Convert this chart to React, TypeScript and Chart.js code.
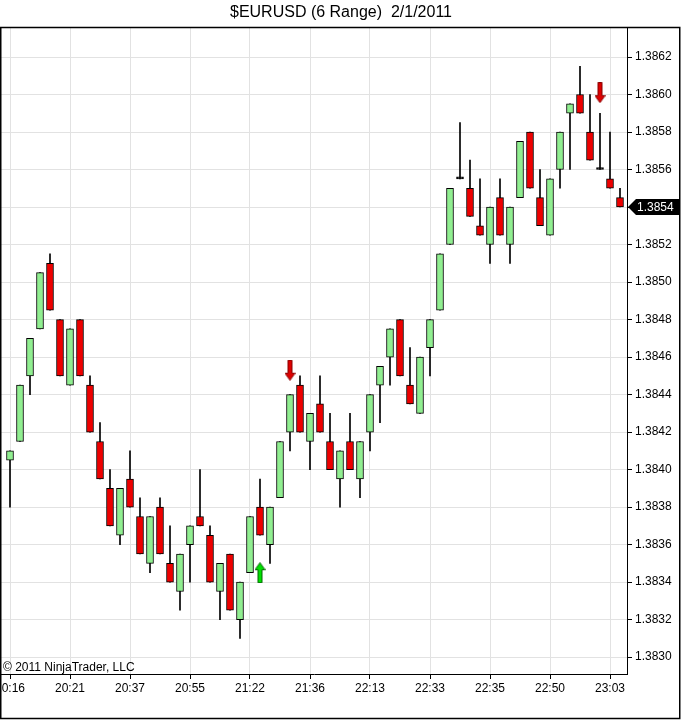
import { useEffect, useRef } from "react";
import { Chart, registerables } from "chart.js";

Chart.register(...registerables);

// $EURUSD 6 range bars, 2/1/2011
const opens = [
  1.38405, 1.38415, 1.3845, 1.38475, 1.3851, 1.3848, 1.38445, 1.3848, 1.38445, 1.38415,
  1.3839, 1.38365, 1.38395, 1.38375, 1.3835, 1.3838, 1.3835, 1.38335, 1.3836, 1.38375,
  1.38365, 1.38335, 1.38355, 1.3832, 1.38345, 1.3838, 1.3836, 1.38385, 1.3842, 1.38445,
  1.38415, 1.38435, 1.38415, 1.38395, 1.38415, 1.38395, 1.3842, 1.38445, 1.3846, 1.3848,
  1.38445, 1.3843, 1.38465, 1.38485, 1.3852, 1.38555, 1.3855, 1.3853, 1.3852, 1.38545,
  1.3852, 1.38545, 1.3858, 1.38545, 1.38525, 1.3856, 1.3859, 1.386, 1.3858, 1.3856,
  1.38555, 1.38545,
];
const highs = [
  1.3841, 1.38445, 1.3847, 1.38505, 1.38515, 1.3848, 1.38475, 1.3848, 1.3845, 1.38425,
  1.384, 1.3839, 1.3841, 1.38385, 1.38375, 1.38385, 1.3837, 1.38355, 1.3837, 1.384,
  1.3837, 1.3835, 1.38355, 1.3834, 1.38375, 1.38395, 1.3838, 1.38415, 1.3844, 1.3845,
  1.3843, 1.3845, 1.3843, 1.3841, 1.3843, 1.38415, 1.3844, 1.38455, 1.38475, 1.3848,
  1.38465, 1.3846, 1.3848, 1.38515, 1.3855, 1.38585, 1.38565, 1.38555, 1.3854, 1.38555,
  1.3854, 1.38575, 1.3858, 1.3856, 1.38555, 1.3858, 1.38595, 1.38615, 1.386, 1.3859,
  1.3858, 1.3855,
];
const lows = [
  1.3838, 1.38415, 1.3844, 1.38475, 1.38485, 1.3845, 1.38445, 1.3845, 1.3842, 1.38395,
  1.3837, 1.3836, 1.3838, 1.38355, 1.38345, 1.38355, 1.3834, 1.38325, 1.3834, 1.3837,
  1.3834, 1.3832, 1.38325, 1.3831, 1.38345, 1.38365, 1.3835, 1.38385, 1.3841, 1.3842,
  1.384, 1.3842, 1.384, 1.3838, 1.384, 1.38385, 1.3841, 1.38425, 1.38445, 1.3845,
  1.38435, 1.3843, 1.3845, 1.38485, 1.3852, 1.38555, 1.38535, 1.38525, 1.3851, 1.38525,
  1.3851, 1.38545, 1.3855, 1.3853, 1.38525, 1.3855, 1.3856, 1.3859, 1.38565, 1.3856,
  1.3855, 1.3854,
];
const closes = [
  1.3841, 1.38445, 1.3847, 1.38505, 1.38485, 1.3845, 1.38475, 1.3845, 1.3842, 1.38395,
  1.3837, 1.3839, 1.3838, 1.38355, 1.38375, 1.38355, 1.3834, 1.38355, 1.3837, 1.3837,
  1.3834, 1.3835, 1.38325, 1.3834, 1.38375, 1.38365, 1.3838, 1.38415, 1.3844, 1.3842,
  1.3843, 1.3842, 1.384, 1.3841, 1.384, 1.38415, 1.3844, 1.38455, 1.38475, 1.3845,
  1.38435, 1.3846, 1.3848, 1.38515, 1.3855, 1.38555, 1.38535, 1.38525, 1.3854, 1.38525,
  1.3854, 1.38575, 1.3855, 1.3853, 1.38555, 1.3858, 1.38595, 1.3859, 1.38565, 1.3856,
  1.3855, 1.3854,
];

// x labels, one every 6 bars
const timeLabels = ["20:16", "20:21", "20:37", "20:55", "21:22", "21:36", "22:13", "22:33", "22:35", "22:50", "23:03"];
const yTickLabels = [
  "1.3830", "1.3832", "1.3834", "1.3836", "1.3838", "1.3840", "1.3842", "1.3844", "1.3846",
  "1.3848", "1.3850", "1.3852", "1.3854", "1.3856", "1.3858", "1.3860", "1.3862",
];

// strategy signal arrows
const signalBars = [25, 28, 59];
const signalPrices = [1.38345, 1.38453, 1.38601];
const signalDirs = ["up", "down", "down"];

const FONT = 'Arial, "Liberation Sans", sans-serif';

function makeArrow(dir: string, fill: string, stroke: string) {
  const c = document.createElement("canvas");
  c.width = 11;
  c.height = 21;
  const ctx = c.getContext("2d")!;
  ctx.beginPath();
  if (dir === "down") {
    ctx.moveTo(3.5, 0.5);
    ctx.lineTo(7.5, 0.5);
    ctx.lineTo(7.5, 13.5);
    ctx.lineTo(10.5, 13.5);
    ctx.lineTo(5.5, 20.5);
    ctx.lineTo(0.5, 13.5);
    ctx.lineTo(3.5, 13.5);
  } else {
    ctx.moveTo(3.5, 20.5);
    ctx.lineTo(7.5, 20.5);
    ctx.lineTo(7.5, 7.5);
    ctx.lineTo(10.5, 7.5);
    ctx.lineTo(5.5, 0.5);
    ctx.lineTo(0.5, 7.5);
    ctx.lineTo(3.5, 7.5);
  }
  ctx.closePath();
  ctx.fillStyle = fill;
  ctx.fill();
  ctx.strokeStyle = stroke;
  ctx.lineWidth = 1;
  ctx.stroke();
  return c;
}

export default function App() {
  const canvasRef = useRef<HTMLCanvasElement>(null);
  const chartRef = useRef<Chart | null>(null);

  useEffect(() => {
    document.body.style.margin = "0";
    if (!canvasRef.current) return;
    chartRef.current?.destroy();

    const idx = opens.map((_, i) => i);
    const bodyColor = idx.map((i) =>
      closes[i] > opens[i] ? "#90EE90" : closes[i] < opens[i] ? "#EE0000" : "#000000"
    );
    const arrows = signalDirs.map((d) =>
      d === "up" ? makeArrow("up", "#00E000", "#006600") : makeArrow("down", "#DD0000", "#880000")
    );

    const frame = {
      id: "frame",
      afterDraw(chart: Chart) {
        const ctx = chart.ctx;
        const ys = chart.scales.y;
        ctx.save();
        // title
        ctx.fillStyle = "#000";
        ctx.font = `16px ${FONT}`;
        ctx.textAlign = "center";
        ctx.textBaseline = "middle";
        ctx.fillText("$EURUSD (6 Range)  2/1/2011", 341, 13);
        // copyright
        ctx.font = `12px ${FONT}`;
        ctx.textAlign = "left";
        ctx.textBaseline = "alphabetic";
        ctx.fillText("\u00A9 2011 NinjaTrader, LLC", 3, 671);
        // last price box
        const last = closes[closes.length - 1];
        const y = Math.round(ys.getPixelForValue(last));
        const x0 = chart.chartArea.right;
        ctx.beginPath();
        ctx.moveTo(x0 + 1, y);
        ctx.lineTo(x0 + 9, y - 8);
        ctx.lineTo(679, y - 8);
        ctx.lineTo(679, y + 8);
        ctx.lineTo(x0 + 9, y + 8);
        ctx.closePath();
        ctx.fillStyle = "#000";
        ctx.fill();
        ctx.fillStyle = "#fff";
        ctx.textBaseline = "middle";
        ctx.fillText(last.toFixed(4), x0 + 10, y + 1);
        // outer frame
        ctx.strokeStyle = "#000";
        ctx.lineWidth = 1.5;
        ctx.strokeRect(0.75, 27.5, 679, 691);
        ctx.restore();
      },
    };

    chartRef.current = new Chart(canvasRef.current, {
      type: "bar",
      data: {
        datasets: [
          {
            type: "bar",
            label: "wick",
            data: idx.map((i) => ({ x: i, y: [lows[i], highs[i]] })) as any,
            backgroundColor: "#000",
            barThickness: 1,
            grouped: false,
            order: 3,
          },
          {
            type: "bar",
            label: "body",
            data: idx.map((i) => ({ x: i, y: [opens[i], closes[i]] })) as any,
            backgroundColor: bodyColor,
            borderColor: "#000",
            borderWidth: 1,
            borderSkipped: false,
            barThickness: 7,
            minBarLength: 2,
            grouped: false,
            order: 2,
          },
          {
            type: "scatter",
            label: "signals",
            data: signalBars.map((b, k) => ({ x: b, y: signalPrices[k] })),
            pointStyle: arrows as any,
            pointRadius: 10,
            order: 1,
          } as any,
        ],
      },
      options: {
        responsive: false,
        animation: false,
        layout: { autoPadding: false, padding: { top: 27, left: 1, right: 2, bottom: 1 } },
        plugins: {
          legend: { display: false },
          tooltip: { enabled: false },
          title: { display: false },
        },
        scales: {
          x: {
            type: "linear",
            min: -0.9,
            max: 61.7,
            offset: false,
            afterBuildTicks: (scale: any) => {
              scale.ticks = timeLabels.map((_, k) => ({ value: k * 6 }));
            },
            afterFit: (scale: any) => {
              scale.height = 45;
              scale.paddingLeft = 0;
              scale.paddingRight = 0;
            },
            ticks: {
              autoSkip: false,
              maxRotation: 0,
              padding: 2,
              color: "#000",
              font: { family: FONT, size: 12 },
              callback: (v: any) => timeLabels[Math.round(Number(v) / 6)] ?? "",
            },
            grid: { color: "#e2e2e2", offset: false, tickLength: 5, tickColor: "#000" },
            border: { color: "#000", width: 1 },
          },
          y: {
            type: "linear",
            position: "right",
            min: 1.38291,
            max: 1.38636,
            afterBuildTicks: (scale: any) => {
              scale.ticks = yTickLabels.map((t) => ({ value: Number(t) }));
            },
            afterFit: (scale: any) => {
              scale.width = 52;
              scale.paddingTop = 0;
              scale.paddingBottom = 0;
            },
            ticks: {
              padding: 3,
              color: "#000",
              font: { family: FONT, size: 12 },
              callback: (v: any) => Number(v).toFixed(4),
            },
            grid: { color: "#e2e2e2", tickLength: 5, tickColor: "#000" },
            border: { color: "#000", width: 1 },
          },
        },
      },
      plugins: [frame],
    });

    return () => {
      chartRef.current?.destroy();
      chartRef.current = null;
    };
  }, []);

  return <canvas ref={canvasRef} width={681} height={720} style={{ display: "block" }} />;
}
